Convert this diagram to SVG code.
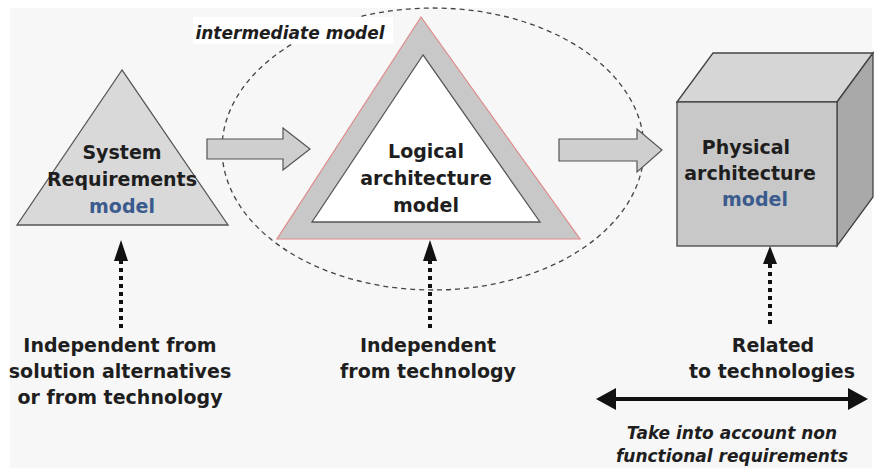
<svg xmlns="http://www.w3.org/2000/svg" width="879" height="470" viewBox="0 0 879 470">
<defs>
<style>
.t{font-family:"DejaVu Sans","Liberation Sans",sans-serif;font-weight:bold;font-size:19px;fill:#1e1e1e;text-anchor:middle}
.b{fill:#3b5b8e}
.i{font-family:"DejaVu Sans","Liberation Sans",sans-serif;font-weight:bold;font-style:italic;font-size:17px;fill:#1e1e1e;text-anchor:middle}
.dot{stroke:#111;stroke-width:4;stroke-dasharray:4 4;fill:none}
.blk{fill:#cfcfcf;stroke:#555;stroke-width:1.2}
.head{fill:#111}
</style>
</defs>
<rect x="0" y="0" width="879" height="470" fill="#ffffff"/>
<rect x="10" y="8" width="862" height="460" fill="#f7f7f7"/>

<g id="intermediate">
<ellipse cx="433" cy="149" rx="211" ry="141" fill="none" stroke="#444" stroke-width="1.3" stroke-dasharray="5 4"/>
<rect x="193" y="17" width="200" height="27" fill="#ffffff"/>
<text class="i" x="290" y="39">intermediate model</text>
</g>

<g id="sysreq">
<polygon points="122,70 17,225 228,225" fill="#d9d9d9" stroke="#555" stroke-width="1.3"/>
<text class="t" x="122" y="159">System</text>
<text class="t" x="122" y="186">Requirements</text>
<text class="t b" x="122" y="213">model</text>
</g>

<g id="logical">
<polygon points="421,17 277,239 580,239" fill="#c8c8c8" stroke="#e08a8a" stroke-width="1.2"/>
<polygon points="423,55 312,222 540,222" fill="#ffffff" stroke="#555" stroke-width="1.3"/>
<text class="t" x="426" y="158">Logical</text>
<text class="t" x="426" y="185">architecture</text>
<text class="t" x="426" y="212">model</text>
</g>

<g id="physical">
<polygon points="677,102 713,53 873,53 837,102" fill="#d6d6d6" stroke="#444" stroke-width="1.3"/>
<polygon points="837,102 873,53 873,197 837,246" fill="#a9a9a9" stroke="#444" stroke-width="1.3"/>
<rect x="677" y="102" width="160" height="144" fill="#c8c8c8" stroke="#444" stroke-width="1.3"/>
<text class="t" x="746" y="154">Physical</text>
<text class="t" x="750" y="180">architecture</text>
<text class="t b" x="755" y="206">model</text>
</g>

<g id="labels">
<text class="t" x="120" y="352">Independent from</text>
<text class="t" x="120" y="378">solution alternatives</text>
<text class="t" x="120" y="404">or from technology</text>
<text class="t" x="428" y="352">Independent</text>
<text class="t" x="428" y="378">from technology</text>
<text class="t" x="773" y="352">Related</text>
<text class="t" x="772" y="378">to technologies</text>
<text class="i" x="732" y="439">Take into account non</text>
<text class="i" x="732" y="462">functional requirements</text>
</g>

<g id="connectors">
<polygon class="blk" points="207,139 283,139 283,128 310,149 283,170 283,159 207,159"/>
<polygon class="blk" points="559,139 637,139 637,129 662,150 637,172 637,161 559,161"/>
<line class="dot" x1="121" y1="328" x2="121" y2="260"/>
<polygon class="head" points="121,240 114,261 128,261"/>
<line class="dot" x1="430" y1="328" x2="430" y2="260"/>
<polygon class="head" points="430,240 423,261 437,261"/>
<line class="dot" x1="770" y1="324" x2="770" y2="262"/>
<polygon class="head" points="770,246 763,264 777,264"/>
<line x1="612" y1="399" x2="852" y2="399" stroke="#111" stroke-width="4"/>
<polygon class="head" points="596,399 616,388 616,410"/>
<polygon class="head" points="868,399 848,388 848,410"/>
</g>
</svg>
